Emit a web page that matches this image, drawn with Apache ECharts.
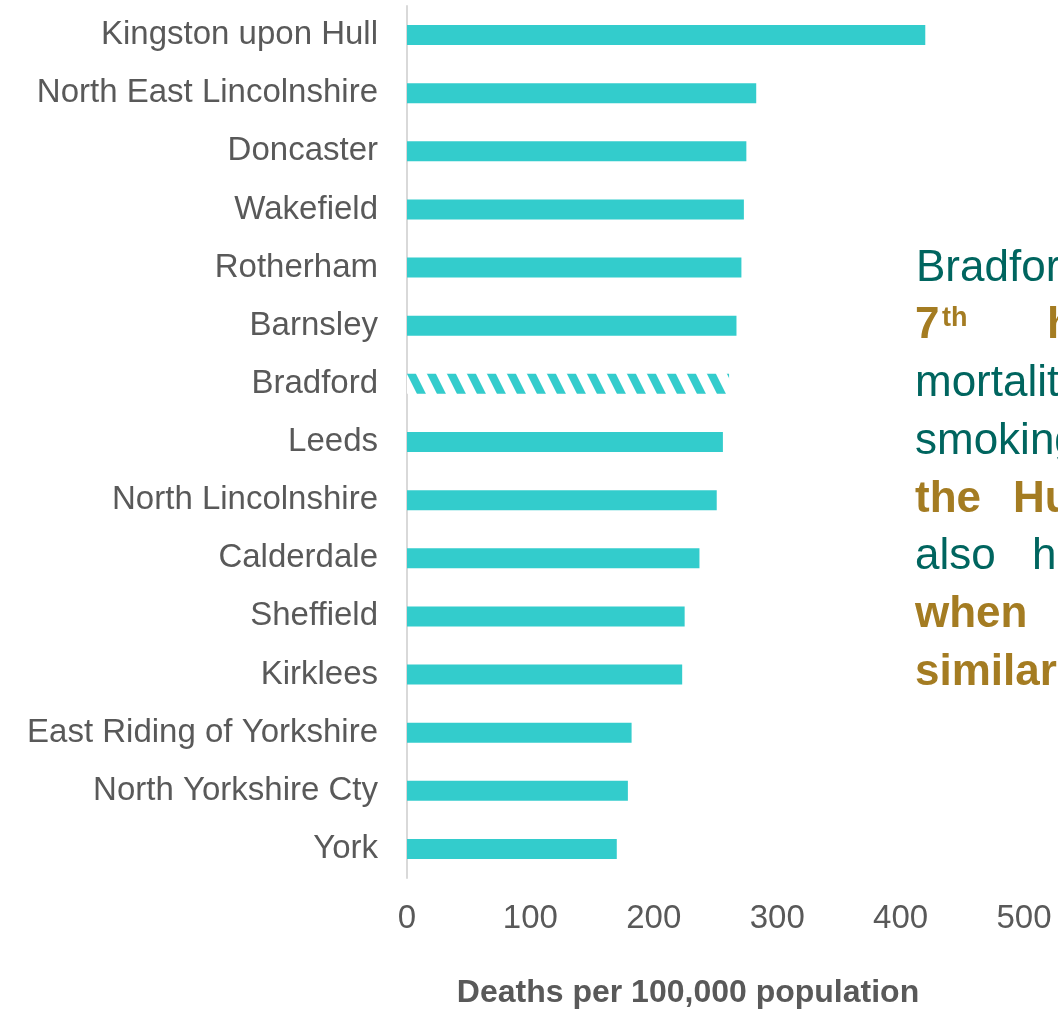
<!DOCTYPE html>
<html>
<head>
<meta charset="utf-8">
<title>Smoking attributable mortality</title>
<script src="https://cdn.jsdelivr.net/npm/echarts@6/dist/echarts.min.js"></script>
<style>
  html, body { margin: 0; padding: 0; background: #fff; }
  #chart { width: 1058px; height: 1014px; }
</style>
</head>
<body>
<div id="chart"></div>
<script>
// areas, top to bottom
var areas = ['Kingston upon Hull', 'North East Lincolnshire', 'Doncaster', 'Wakefield', 'Rotherham',
  'Barnsley', 'Bradford', 'Leeds', 'North Lincolnshire', 'Calderdale', 'Sheffield', 'Kirklees',
  'East Riding of Yorkshire', 'North Yorkshire Cty', 'York'];
// deaths per 100,000 population
var deaths = [420, 283, 275, 273, 271, 267, 261, 256, 251, 237, 225, 223, 182, 179, 170];
var highlight = 'Bradford';
var xTicks = [0, 100, 200, 300, 400, 500];

var FONT = 'Liberation Sans, Arial, sans-serif';
var BAR = '#33CCCC';
var TEAL = '#00655F';
var GOLD = '#A47C22';

// diagonal stripes for the highlighted bar
function stripes() {
  var w = 20, h = 40, t = 9;
  var c = document.createElement('canvas');
  c.width = w; c.height = h;
  var g = c.getContext('2d');
  g.fillStyle = '#fff';
  g.fillRect(0, 0, w, h);
  g.fillStyle = BAR;
  for (var k = -1; k <= 1; k++) {
    var x0 = k * w;
    g.beginPath();
    g.moveTo(x0, 0); g.lineTo(x0 + t, 0); g.lineTo(x0 + t + w, h); g.lineTo(x0 + w, h);
    g.closePath(); g.fill();
  }
  return c;
}

var barData = [];
for (var i = 0; i < areas.length; i++) {
  if (areas[i] === highlight) {
    barData.push({ value: deaths[i], itemStyle: { color: { image: stripes(), repeat: 'repeat' } } });
  } else {
    barData.push(deaths[i]);
  }
}

// text box on the right (cut off by the page edge, justified lines)
function word(txt, x, baseline, bold, color, size) {
  size = size || 44;
  return {
    type: 'text', x: x, y: baseline - size * 0.33,
    style: { text: txt, fontFamily: FONT, fontSize: size, fontWeight: bold ? 'bold' : 'normal',
      fill: color, verticalAlign: 'middle', textAlign: 'left' }
  };
}
var notes = [
  word('Bradford has the', 916, 283, false, TEAL),
  word('7', 915, 340, true, GOLD),
  word('th', 942, 327, true, GOLD, 27),
  word('highest', 1047, 340, true, GOLD),
  word('mortality rate', 915, 398, false, TEAL),
  word('smoking in', 915, 456, false, TEAL),
  word('the', 915, 514, true, GOLD),
  word('Humber', 1013, 514, true, GOLD),
  word('also', 915, 571, false, TEAL),
  word('has', 1032, 571, false, TEAL),
  word('when', 915, 629, true, GOLD),
  word('similar', 915, 687, true, GOLD)
];

var chart = echarts.init(document.getElementById('chart'));
chart.setOption({
  animation: false,
  backgroundColor: '#fff',
  grid: { left: 407, right: 34, top: 6, bottom: 135, containLabel: false },
  xAxis: {
    type: 'value',
    min: xTicks[0],
    max: xTicks[xTicks.length - 1],
    interval: xTicks[1] - xTicks[0],
    axisLine: { show: false },
    axisTick: { show: false },
    splitLine: { show: false },
    axisLabel: { color: '#595959', fontFamily: FONT, fontSize: 33, margin: 24 },
    name: 'Deaths per 100,000 population',
    nameLocation: 'middle',
    nameGap: 99,
    nameTextStyle: { color: '#595959', fontFamily: FONT, fontSize: 32, fontWeight: 'bold', padding: [0, 55, 0, 0] }
  },
  yAxis: {
    type: 'category',
    data: areas,
    inverse: true,
    axisLine: { show: true, lineStyle: { color: '#D9D9D9', width: 2 } },
    axisTick: { show: false },
    axisLabel: { color: '#595959', fontFamily: FONT, fontSize: 33, margin: 29 }
  },
  series: [{
    type: 'bar',
    data: barData,
    barWidth: 20,
    itemStyle: { color: BAR }
  }],
  graphic: notes
});
</script>
</body>
</html>
